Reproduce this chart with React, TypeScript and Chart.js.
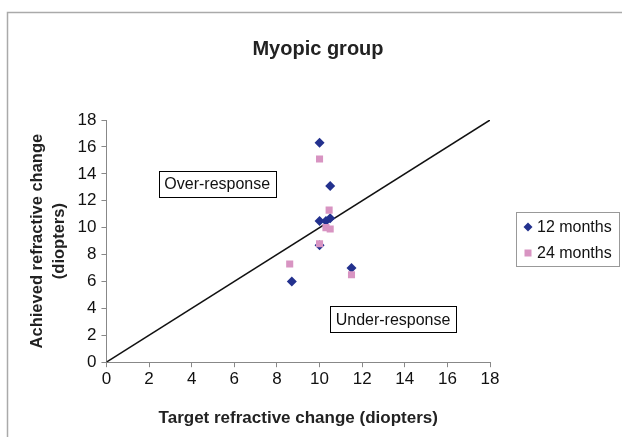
import React, { useEffect, useRef } from "react";
import { Chart, registerables } from "chart.js";

Chart.register(...registerables);

const chartTitle = "Myopic group";
const series12Label = "12 months";
const series24Label = "24 months";
const target12 = [10, 10.5, 10, 10.3, 10.5, 8.7, 11.5, 10];
const achieved12 = [16.3, 13.1, 10.5, 10.5, 10.7, 6.0, 7.0, 8.7];
const target24 = [10, 10.45, 10.3, 10.5, 10, 8.6, 11.5];
const achieved24 = [15.1, 11.3, 10.0, 9.9, 8.8, 7.3, 6.5];
const refLineX = [0, 18];
const refLineY = [0, 18];

const BLUE = "#23318e";
const PINK = "#d894c2";
const FONT = "'Liberation Sans', Arial, sans-serif";

const decorPlugin = {
  id: "decor",
  beforeDraw(chart: any) {
    const ctx = chart.ctx;
    ctx.save();
    ctx.fillStyle = "#ffffff";
    ctx.fillRect(0, 0, chart.width, chart.height);
    ctx.strokeStyle = "#aaaaaa";
    ctx.lineWidth = 1.5;
    ctx.beginPath();
    ctx.moveTo(7.5, chart.height);
    ctx.lineTo(7.5, 12.5);
    ctx.lineTo(chart.width, 12.5);
    ctx.stroke();
    ctx.restore();
  },
  afterDraw(chart: any) {
    const ctx = chart.ctx;
    const xs = chart.scales.x;
    const ys = chart.scales.y;
    ctx.save();
    // title
    ctx.font = `bold 20px ${FONT}`;
    ctx.fillStyle = "#222";
    ctx.textAlign = "center";
    ctx.textBaseline = "middle";
    ctx.fillText(chartTitle, 318, 49);

    ctx.font = `16px ${FONT}`;
    const boxes = [
      { text: "Over-response", cx: 5.2, cy: 13.24 },
      { text: "Under-response", cx: 13.45, cy: 3.18 },
    ];
    boxes.forEach((b) => {
      const px = xs.getPixelForValue(b.cx);
      const py = ys.getPixelForValue(b.cy);
      const w = Math.round(ctx.measureText(b.text).width + 11);
      const h = 26;
      const x0 = Math.round(px - w / 2) + 0.5;
      const y0 = Math.round(py - h / 2) + 0.5;
      ctx.fillStyle = "#fff";
      ctx.fillRect(x0, y0, w, h);
      ctx.strokeStyle = "#000";
      ctx.lineWidth = 1;
      ctx.strokeRect(x0, y0, w, h);
      ctx.fillStyle = "#111";
      ctx.textAlign = "center";
      ctx.fillText(b.text, px, py + 1);
    });

    // legend
    const lx = 516, ly = 212, lw = 103, lh = 54;
    ctx.strokeStyle = "#999";
    ctx.lineWidth = 1;
    ctx.strokeRect(lx + 0.5, ly + 0.5, lw, lh);
    ctx.textAlign = "left";
    const ds = chart.data.datasets.filter((d: any) => d.type !== "line");
    ds.forEach((d: any, i: number) => {
      const cy = ly + 15 + i * 26;
      const cx = lx + 12;
      ctx.fillStyle = d.backgroundColor;
      ctx.beginPath();
      if (d.pointStyle === "rectRot") {
        ctx.moveTo(cx, cy - 4.5);
        ctx.lineTo(cx + 4.5, cy);
        ctx.lineTo(cx, cy + 4.5);
        ctx.lineTo(cx - 4.5, cy);
        ctx.closePath();
        ctx.fill();
      } else {
        ctx.fillRect(cx - 3.5, cy - 3.5, 7, 7);
      }
      ctx.fillStyle = "#111";
      ctx.fillText(d.label, cx + 9, cy + 1);
    });
    ctx.restore();
  },
};

export default function App() {
  const ref = useRef<HTMLCanvasElement>(null);
  useEffect(() => {
    document.body.style.margin = "0";
    const chart = new Chart(ref.current!, {
      type: "scatter",
      data: {
        datasets: [
          {
            type: "line",
            label: "ref",
            data: refLineX.map((x, i) => ({ x, y: refLineY[i] })),
            borderColor: "#111",
            borderWidth: 1.5,
            pointRadius: 0,
            fill: false,
            order: 3,
          } as any,
          {
            label: series12Label,
            data: target12.map((x, i) => ({ x, y: achieved12[i] })),
            backgroundColor: BLUE,
            borderColor: BLUE,
            pointStyle: "rectRot",
            pointRadius: 5,
            borderWidth: 0,
            order: 2,
          },
          {
            label: series24Label,
            data: target24.map((x, i) => ({ x, y: achieved24[i] })),
            backgroundColor: PINK,
            borderColor: PINK,
            pointStyle: "rect",
            pointRadius: 5,
            borderWidth: 0,
            order: 1,
          },
        ],
      },
      options: {
        animation: false,
        responsive: false,
        layout: { padding: { left: 26, right: 132, top: 120, bottom: 8 } },
        plugins: {
          legend: { display: false },
          tooltip: { enabled: false },
          title: { display: false },
        },
        scales: {
          x: {
            type: "linear",
            min: 0,
            max: 18,
            ticks: { stepSize: 2, color: "#111", font: { family: FONT, size: 17 }, padding: 2 },
            grid: { drawOnChartArea: false, drawTicks: true, tickLength: 5, color: "#888" },
            border: { color: "#888", width: 1 },
            title: {
              display: true,
              text: "Target refractive change (diopters)",
              color: "#222",
              font: { family: FONT, size: 17, weight: "bold" },
              padding: { top: 17, bottom: 0 },
            },
          },
          y: {
            type: "linear",
            min: 0,
            max: 18,
            ticks: { stepSize: 2, color: "#111", font: { family: FONT, size: 17 }, padding: 5 },
            grid: { drawOnChartArea: false, drawTicks: true, tickLength: 5, color: "#888" },
            border: { color: "#888", width: 1 },
            title: {
              display: true,
              text: ["Achieved refractive change", "(diopters)"],
              color: "#222",
              font: { family: FONT, size: 16.5, weight: "bold", lineHeight: 1.35 },
              padding: { top: 0, bottom: 2 },
            },
          },
        },
      },
      plugins: [decorPlugin],
    });
    return () => chart.destroy();
  }, []);
  return <canvas ref={ref} width={622} height={437} style={{ display: "block" }} />;
}
